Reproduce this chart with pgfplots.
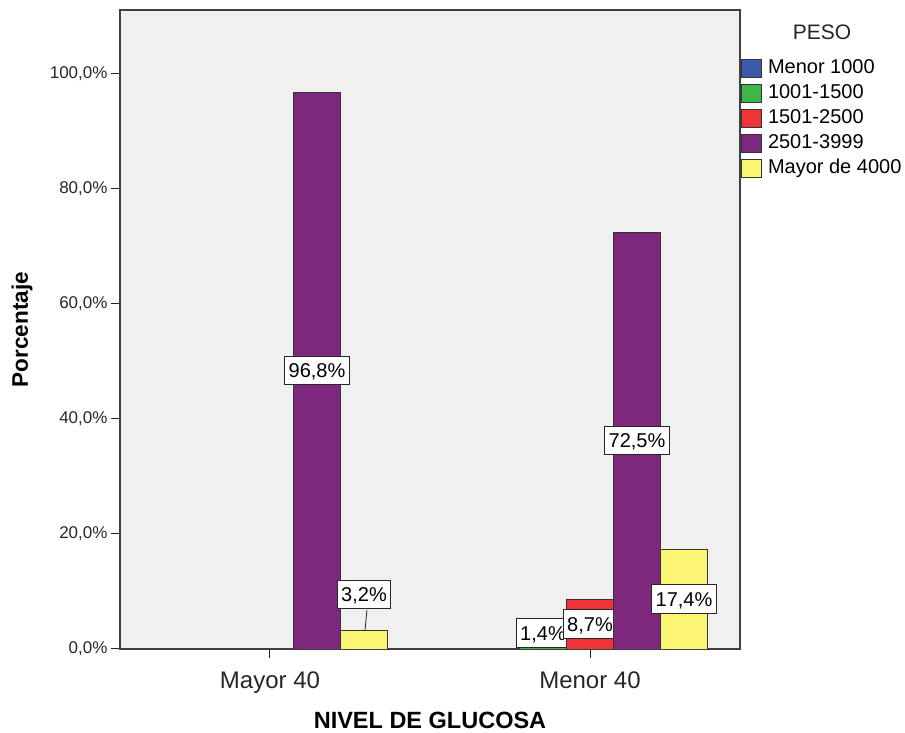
\documentclass[border=0pt]{standalone}
\usepackage{fontspec}
\setmainfont{Liberation Sans}
\usepackage{pgfplots}
\usepackage{pgfplotstable}
\pgfplotsset{compat=1.18}
\definecolor{cblue}{RGB}{62,88,170}
\definecolor{cgreen}{RGB}{62,182,74}
\definecolor{cred}{RGB}{238,52,56}
\definecolor{cpurple}{RGB}{125,40,125}
\definecolor{cyellow}{RGB}{250,245,115}
\definecolor{cbg}{RGB}{240,240,240}

\pgfplotstableread{
x y lab
1 1.4 2.78
}\tgreen
\pgfplotstableread{
x y lab
1 8.7 4.35
}\tred
\pgfplotstableread{
x y lab
0 96.8 48.4
1 72.5 36.25
}\tpurple
\pgfplotstableread{
x y lab
0 3.2 9.5
1 17.4 8.7
}\tyellow

\pgfplotsset{
  sqlegend/.style={legend image code/.code={\draw[##1,draw=black!80,line width=0.8pt] (0pt,-9pt) rectangle (20pt,9pt);}},
  barlab/.style={
    nodes near coords={\pgfmathprintnumber[fixed,fixed zerofill,precision=1,use comma,assume math mode=true]{\pgfplotspointmeta}\%},
    point meta=y,
    visualization depends on={\thisrow{lab}-\thisrow{y} \as \dlab},
    every node near coord/.append style={anchor=center, shift={(axis direction cs:0,\dlab)},
      draw=black!85, fill=white, line width=0.8pt, inner xsep=4pt, inner ysep=7pt,
      text height=14.3pt, text depth=0pt, text=black, font=\fontsize{20}{24}\selectfont},
  },
}

\begin{document}
\begin{tikzpicture}
\path[use as bounding box] (-120pt,-84pt) rectangle (785pt,649pt);
\begin{axis}[
  at={(0pt,0pt)}, anchor=south west,
  scale only axis, width=620pt, height=639pt,
  clip mode=individual,
  xmin=-0.46875, xmax=1.46875, ymin=0, ymax=111.13,
  axis background/.style={fill=cbg},
  axis line style={black!75, line width=1.3pt},
  xtick={0,1}, xticklabels={Mayor 40, Menor 40},
  ytick={0,20,40,60,80,100},
  yticklabel={\pgfmathprintnumber[fixed,fixed zerofill,precision=1,use comma,assume math mode=true]{\tick}\%},
  xtick pos=bottom, ytick pos=left,
  tick align=outside,
  major tick length=9pt,
  every tick/.style={black!85, line width=1pt},
  x tick label style={font=\fontsize{24}{28}\selectfont, text=black!85, yshift=-10pt},
  y tick label style={font=\fontsize{17}{20}\selectfont, text=black!85},
  xlabel={NIVEL DE GLUCOSA},
  ylabel={Porcentaje},
  every axis x label/.style={at={(rel axis cs:0.5,0)}, yshift=-71pt, anchor=center, font=\bfseries\fontsize{23.5}{28}\selectfont},
  every axis y label/.style={at={(rel axis cs:0,0.5)}, xshift=-98pt, rotate=90, anchor=center, font=\bfseries\fontsize{22.5}{27}\selectfont},
  ybar, bar width=47pt,
  legend style={at={(rel axis cs:1,1)}, anchor=north west, xshift=1pt, yshift=-45.5pt,
    draw=none, fill=none, inner sep=0pt, row sep=0pt, column sep=3pt,
    font=\fontsize{20}{24}\selectfont,
    nodes={inner xsep=3pt, inner ysep=3pt, text height=15pt, text depth=4pt}},
  legend cell align=left,
]
\addlegendimage{sqlegend, fill=cblue}
\addlegendentry{Menor 1000}
\addplot[sqlegend, fill=cgreen, draw=black!80, line width=0.8pt, bar shift=-47pt, barlab] table[x=x,y=y] {\tgreen};
\addlegendentry{1001-1500}
\addplot[sqlegend, fill=cred, draw=black!80, line width=0.8pt, bar shift=0pt, barlab] table[x=x,y=y] {\tred};
\addlegendentry{1501-2500}
\addplot[sqlegend, fill=cpurple, draw=black!80, line width=0.8pt, bar shift=47pt, barlab] table[x=x,y=y] {\tpurple};
\addlegendentry{2501-3999}
\draw[black!85, line width=0.8pt] (axis cs:0.303,6.8) -- (axis cs:0.297,3.3);
\addplot[sqlegend, fill=cyellow, draw=black!80, line width=0.8pt, bar shift=94pt, barlab] table[x=x,y=y] {\tyellow};
\addlegendentry{Mayor de 4000}
\node[font=\fontsize{21}{25}\selectfont, text=black!85] at (rel axis cs:1,1) [xshift=82pt, yshift=-22pt] {PESO};
\end{axis}
\end{tikzpicture}
\end{document}
